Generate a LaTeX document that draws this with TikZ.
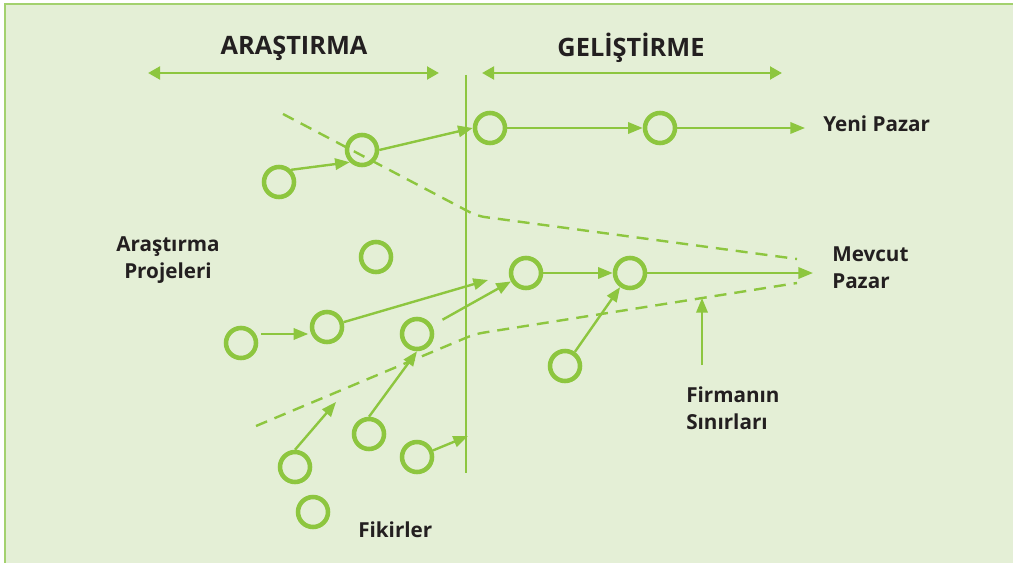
\documentclass[tikz,border=0pt]{standalone}
\usepackage{fontspec}
\setmainfont{Open Sans}
\usetikzlibrary{arrows.meta,positioning}

\definecolor{leaf}{HTML}{8DC63F}
\definecolor{pale}{HTML}{E4EFD6}
\definecolor{rim}{HTML}{A3D16E}
\definecolor{ink}{HTML}{231F20}

\tikzset{
  idea/.style={circle,draw=leaf,line width=3.4pt,minimum size=22.5pt,inner sep=0pt},
  flow/.style={draw=leaf,line width=1.8pt,-{Triangle[length=11pt,width=8.5pt]}},
  span/.style={draw=leaf,line width=2.2pt,{Triangle[length=9pt,width=9.5pt]}-{Triangle[length=9pt,width=9.5pt]}},
  limit/.style={draw=leaf,line width=1.8pt,dash pattern=on 9pt off 6pt,rounded corners=6pt},
  tag/.style={font=\bfseries\fontsize{15.5}{20.5}\selectfont,text=ink,inner sep=0pt,align=left},
  head/.style={font=\bfseries\fontsize{19}{23}\selectfont,text=ink,inner sep=0pt},
}

\begin{document}
\begin{tikzpicture}[x=0.75pt,y=-0.75pt]
\useasboundingbox (0,0) rectangle (1013,563);
\clip (0,0) rectangle (1013,563);
% panel
\fill[pale] (5,4) rectangle (1030,580);
\draw[rim,line width=1.5pt] (5,580) -- (5,4) -- (1030,4);

% headings and their spans
\node[head] (res) at (294,48) {ARAŞTIRMA};
\node[head] (dev) at (631,48) {GELİŞTİRME};
\coordinate (res-l) at (148,73);
\coordinate (res-r) at (439,73);
\coordinate (dev-l) at (482,73);
\coordinate (dev-r) at (782,73);
\draw[span] (res-l) -- (res-r);
\draw[span] (dev-l) -- (dev-r);

% divider
\coordinate (div-top) at (466,75);
\coordinate (div-bot) at (466,473);
\draw[leaf,line width=2pt] (div-top) -- (div-bot);

% firm boundaries
\draw[limit] (283,114) -- (477,216) -- (797,259);
\draw[limit] (256,426) -- (475,334) -- (797,283);

% ideas and projects
\node[idea] (a1) at (279,182) {};
\node[idea] (a2) at (362,150) {};
\node[idea] (a3) at (490,128) {};
\node[idea] (a4) at (660,128) {};
\node[idea] (a5) at (376,257) {};
\node[idea] (a6) at (526,273) {};
\node[idea] (a7) at (630,273) {};
\node[idea] (a8) at (327,327) {};
\node[idea] (a9) at (241,343) {};
\node[idea] (a10) at (417,334) {};
\node[idea] (a11) at (565,366) {};
\node[idea] (a12) at (369,434) {};
\node[idea] (a13) at (295,467) {};
\node[idea] (a14) at (417,457) {};
\node[idea] (a15) at (313,512) {};

% labels
\node[tag,align=center] (proj) at (168,260) {Araştırma\\Projeleri};
\node[tag,anchor=base west] (new) at (823,132) {Yeni Pazar};
\node[tag,anchor=west] (old) at (832,268) {Mevcut\\Pazar};
\node[tag,anchor=west] (firm) at (686,408) {Firmanın\\Sınırları};
\node[tag,anchor=base west] (seed) at (358,537) {Fikirler};

% free ends
\coordinate (new-end) at (805,128);
\coordinate (old-end) at (813,273);
\coordinate (hit-a) at (488,280);
\coordinate (hit-c) at (336,402);
\coordinate (hit-d) at (468,436);
\coordinate (wall-a) at (702,365);
\coordinate (wall-b) at (702,298);

% flows
\draw[flow] (a1.north east) -- (a2.south west);
\draw[flow] (a2.east) -- (a3.west);
\draw[flow] (a3) -- (a4);
\draw[flow] (a4) -- (new-end);
\draw[flow] (a6) -- (a7);
\draw[flow] (a7) -- (old-end);
\draw[flow] (a11) -- (a7);
\draw[flow] (a9.east) ++(3,-9) -- ++(47,0);
\draw[flow] (a8) -- (hit-a);
\draw[flow,shorten <=9pt] (a10) -- (a6);
\draw[flow] (a12.north) -- (a10.south);
\draw[flow] (a13.north) -- (hit-c);
\draw[flow] (a14) -- (hit-d);
\draw[flow] (wall-a) -- (wall-b);
\end{tikzpicture}
\end{document}
